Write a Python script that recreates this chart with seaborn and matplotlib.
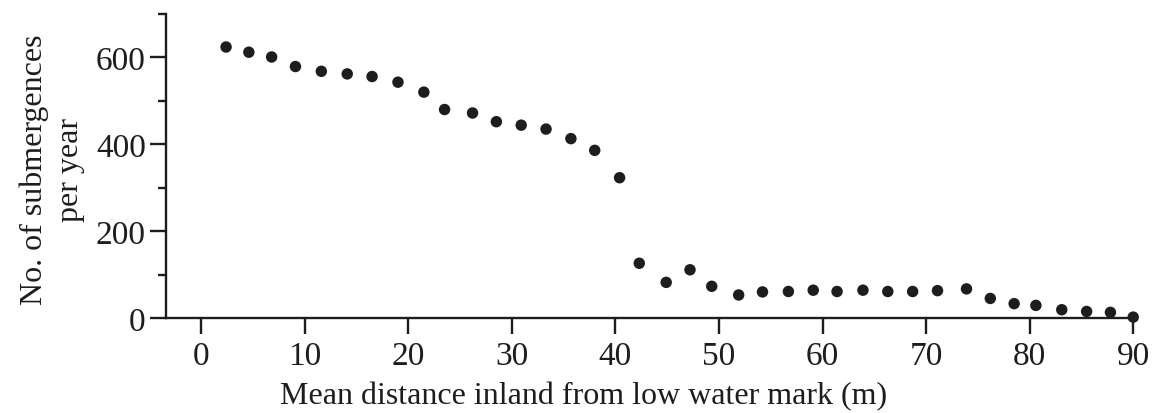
import matplotlib
matplotlib.use("Agg")
import matplotlib.pyplot as plt
import seaborn as sns
import pandas as pd
from matplotlib.ticker import MultipleLocator

# Values
distance = [2.4, 4.6, 6.8, 9.1, 11.6, 14.1, 16.5, 19.0, 21.5, 23.5,
            26.2, 28.5, 30.9, 33.3, 35.7, 38.0, 40.4, 42.3, 44.9, 47.2,
            49.3, 51.9, 54.2, 56.7, 59.1, 61.4, 63.9, 66.3, 68.7, 71.1,
            73.9, 76.2, 78.5, 80.6, 83.1, 85.5, 87.8, 90.0]
submergences = [624, 612, 601, 579, 568, 562, 556, 543, 520, 480,
                472, 452, 444, 435, 413, 386, 323, 126, 82, 111,
                73, 53, 60, 61, 64, 61, 64, 61, 61, 63,
                67, 45, 33, 29, 19, 15, 13, 2]
x_ticks = list(range(0, 91, 10))
y_ticks = [0, 200, 400, 600]

df = pd.DataFrame({"distance": distance, "submergences": submergences})

sns.set_style("ticks")
plt.rcParams["font.family"] = ["Liberation Serif", "DejaVu Serif"]

ink = "#1f1c1d"
fig = plt.figure(figsize=(11.56, 4.14), dpi=100)
ax = fig.add_axes([0.1436, 0.2295, 0.9803 - 0.1436, 0.9638 - 0.2295])

sns.scatterplot(data=df, x="distance", y="submergences", ax=ax,
                color=ink, s=68, edgecolor="none", clip_on=False, zorder=3)

ax.set_xlim(-3.4, 90)
ax.set_ylim(0, 700)
ax.set_xticks(x_ticks)
ax.set_yticks(y_ticks)
ax.yaxis.set_minor_locator(MultipleLocator(100))

for side in ["top", "right"]:
    ax.spines[side].set_visible(False)
for side in ["left", "bottom"]:
    ax.spines[side].set_linewidth(1.7)
    ax.spines[side].set_color(ink)

ax.tick_params(axis="both", which="major", direction="out", length=11.5,
               width=1.7, colors=ink, labelsize=24, pad=3)
ax.tick_params(axis="y", which="minor", direction="out", length=6,
               width=1.7, colors=ink)
ax.tick_params(axis="x", pad=5)

ax.set_xlabel("Mean distance inland from low water mark (m)", fontsize=23,
              color=ink)
ax.xaxis.set_label_coords(0.432, -0.207)
ax.set_ylabel("No. of submergences\nper year", fontsize=23, color=ink,
              linespacing=1.3)
ax.yaxis.set_label_coords(-0.084, 0.49)

fig.savefig("out.png", dpi=100)
